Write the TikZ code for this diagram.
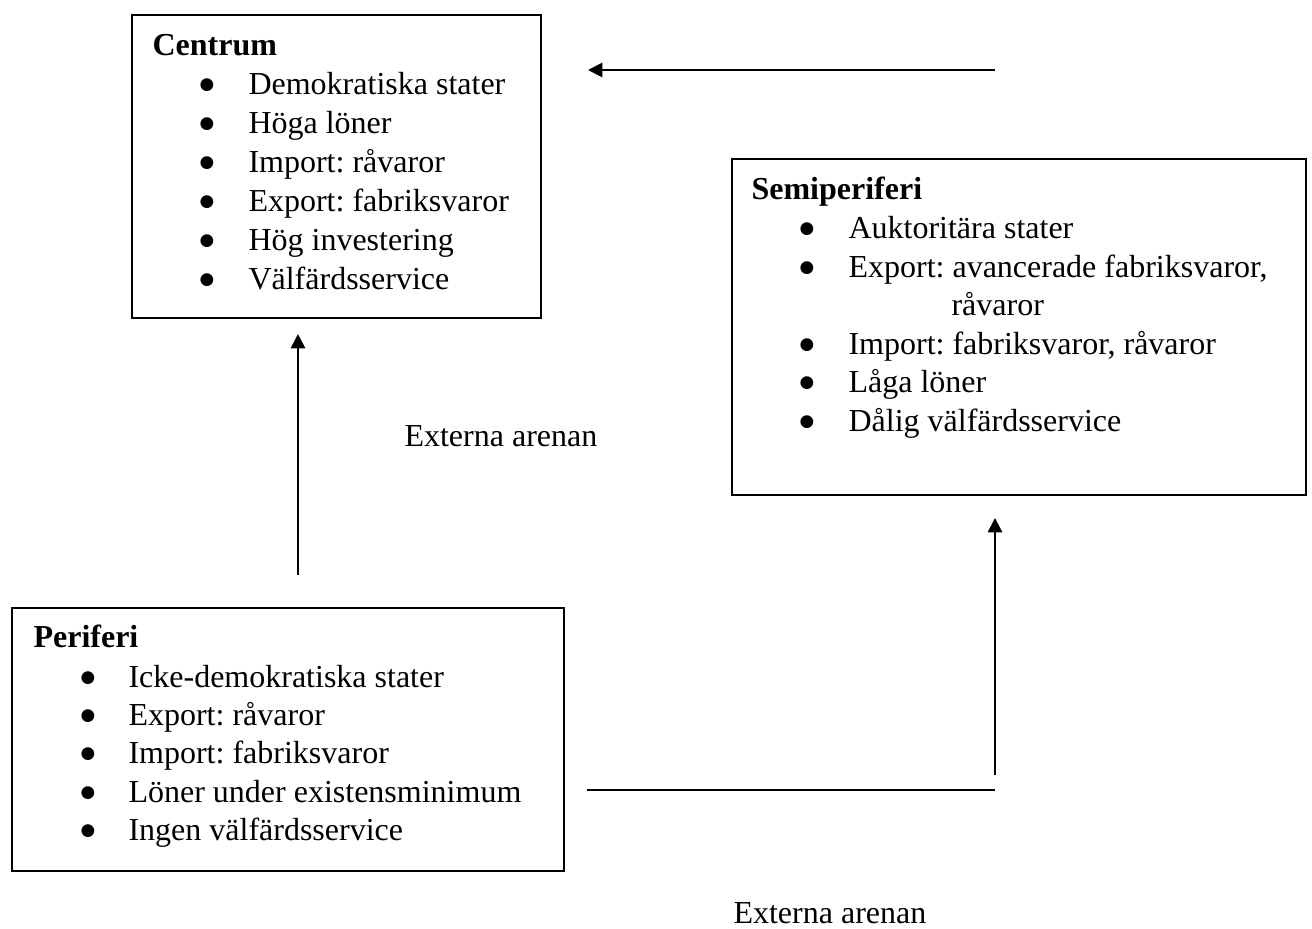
\documentclass[tikz,border=0pt]{standalone}
\usepackage{fontspec}
\setmainfont{Liberation Serif}
\newfontfamily\dotfont{DejaVu Sans}
\usetikzlibrary{arrows.meta}
\frenchspacing
\tikzset{
  box/.style={draw, line width=0.75pt, rectangle, anchor=north west, inner sep=0pt},
  txt/.style={anchor=base west, inner sep=0pt, font=\fontsize{12}{14}\selectfont\frenchspacing},
  ttl/.style={anchor=base west, inner sep=0pt, font=\fontsize{12}{14}\selectfont\bfseries},
  bul/.style={anchor=center, inner sep=0pt, font=\dotfont\fontsize{6.3}{7}\selectfont},
  conn/.style={line width=0.75pt},
  arr/.style={line width=0.75pt, -{Triangle[length=5.4pt,width=5.4pt]}}
}
\begin{document}
\begin{tikzpicture}[x=0.375pt,y=-0.375pt]
\useasboundingbox (0,0) rectangle (1312,928);
% boxes
\node[box, minimum width=153.4pt, minimum height=113.6pt] (centrum) at (131,14) {};
\node[box, minimum width=215.3pt, minimum height=126pt] (semi) at (731,158) {};
\node[box, minimum width=207pt, minimum height=98.6pt] (peri) at (11,607) {};
% Centrum text
\node[ttl] (ct) at (152,55) {Centrum};
\foreach \y/\t [count=\i] in {94/Demokratiska stater, 133/Höga löner, 172/Import: råvaror, 211/Export: fabriksvaror, 250/Hög investering, 289/Välfärdsservice}{
  \node[bul] (cb\i) at (207,\y-9) {●};
  \node[txt] (ci\i) at (248,\y) {\t};
}
% Semiperiferi text
\node[ttl] (st) at (751,199) {Semiperiferi};
\foreach \y/\t [count=\i] in {238/Auktoritära stater, 277/{Export: avancerade fabriksvaror,}, 354/{Import: fabriksvaror, råvaror}, 392/Låga löner, 431/Dålig välfärdsservice}{
  \node[bul] (sb\i) at (807,\y-9) {●};
  \node[txt] (si\i) at (848,\y) {\t};
}
\node[txt] (si2b) at (951,315) {råvaror};
% Periferi text
\node[ttl] (pt) at (33,647) {Periferi};
\foreach \y/\t [count=\i] in {687/Icke-demokratiska stater, 725/Export: råvaror, 763/Import: fabriksvaror, 802/Löner under existensminimum, 840/Ingen välfärdsservice}{
  \node[bul] (pb\i) at (88,\y-9) {●};
  \node[txt] (pi\i) at (128,\y) {\t};
}
% labels
\node[txt] (ext1) at (404,446) {Externa arenan};
\node[txt] (ext2) at (733,923) {Externa arenan};
% connector end points
\coordinate (a1s) at (995,70);
\coordinate (a1e) at (588,70);
\coordinate (a2s) at (298,575);
\coordinate (a2e) at (298,334);
\coordinate (a3s) at (995,775);
\coordinate (a3e) at (995,518);
\coordinate (l1s) at (587,790);
\coordinate (l1e) at (995,790);
\draw[arr] (a1s) -- (a1e);
\draw[arr] (a2s) -- (a2e);
\draw[arr] (a3s) -- (a3e);
\draw[conn] (l1s) -- (l1e);
\end{tikzpicture}
\end{document}
